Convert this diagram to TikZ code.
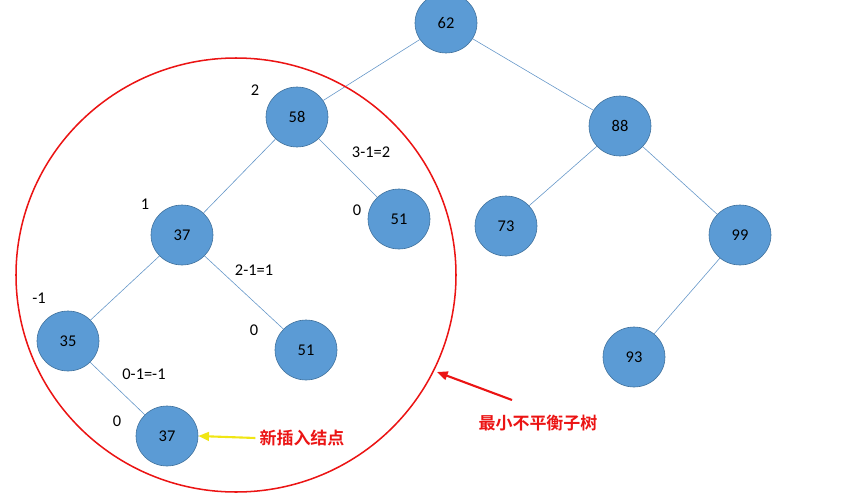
\documentclass[tikz,border=0pt]{standalone}
\usepackage{fontspec}
\setmainfont{Carlito}
\newfontfamily\cjk{Noto Sans CJK SC}[BoldFont={* Bold}]
\usetikzlibrary{arrows.meta,shapes.geometric}
\definecolor{nodeC}{RGB}{91,155,213}
\definecolor{rimC}{RGB}{65,113,156}
\definecolor{edgeC}{RGB}{100,150,200}
\definecolor{ringC}{RGB}{235,20,20}
\definecolor{hintC}{RGB}{240,230,20}

\begin{document}
\begin{tikzpicture}[x=0.03cm, y=-0.03cm,
  key/.style={ellipse, draw=rimC, fill=nodeC, line width=0.5pt,
              minimum width=1.86cm, minimum height=1.8cm, inner sep=0pt,
              font=\fontsize{14}{16}\selectfont},
  edge/.style={draw=edgeC, line width=0.5pt},
  bf/.style={font=\fontsize{14}{16}\selectfont},
  note/.style={font=\cjk\bfseries\fontsize{14.5}{16}\selectfont, text=ringC},
  ptr/.style={-{Triangle[length=3.2mm, width=2.6mm]}, line width=1.8pt},
]
\useasboundingbox (0,0) rectangle (860,498);

% ---------------- tree ----------------
\node[key] (n62)  at (446, 23)  {62};
\node[key] (n58)  at (297,117)  {58};
\node[key] (n88)  at (620,126)  {88};
\node[key] (n37)  at (182,235)  {37};
\node[key] (n51)  at (399,219)  {51};
\node[key] (n73)  at (506,226)  {73};
\node[key] (n99)  at (740,235)  {99};
\node[key] (n35)  at ( 68,341)  {35};
\node[key] (n51b) at (306,350)  {51};
\node[key] (n93)  at (634,357)  {93};
\node[key] (n37b) at (167,436)  {37};

\draw[edge] (n62) -- (n58);
\draw[edge] (n62) -- (n88);
\draw[edge] (n58) -- (n37);
\draw[edge] (n58) -- (n51);
\draw[edge] (n88) -- (n73);
\draw[edge] (n88) -- (n99);
\draw[edge] (n37) -- (n35);
\draw[edge] (n37) -- (n51b);
\draw[edge] (n99) -- (n93);
\draw[edge] (n35) -- (n37b);

% ---------------- balance factors ----------------
\node[bf] (b58)  at (255, 90)  {2};
\node[bf] (h58)  at (371,152)  {3-1=2};
\node[bf] (b51)  at (357,210)  {0};
\node[bf] (b37)  at (145,204)  {1};
\node[bf] (h37)  at (254,270)  {2-1=1};
\node[bf] (b35)  at ( 39,298)  {-1};
\node[bf] (b51b) at (254,330)  {0};
\node[bf] (h35)  at (144,374)  {0-1=-1};
\node[bf] (b37b) at (117,421)  {0};

% ---------------- subtree ring ----------------
\draw[ringC, line width=1.3pt] (236,275) ellipse [x radius=220, y radius=217];

\node[note] (ins) at (302,438) {新插入结点};
\node[note] (sub) at (538,423) {最小不平衡子树};
\coordinate (ringpt) at (437,372);

\draw[ptr, draw=ringC, fill=ringC] (512,400) -- (ringpt);
\draw[ptr, draw=hintC, fill=hintC] (ins.west) -- (n37b.east);

\end{tikzpicture}
\end{document}
